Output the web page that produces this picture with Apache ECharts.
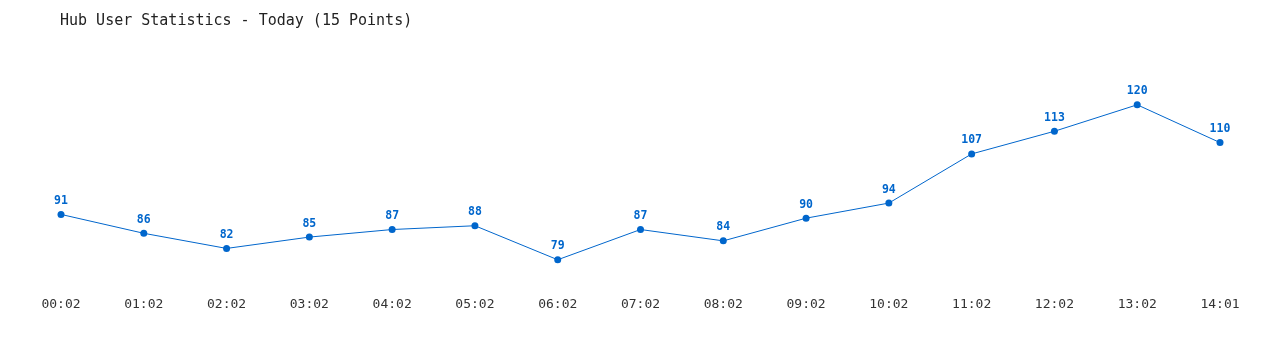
<!DOCTYPE html>
<html><head><meta charset="utf-8">
<script src="https://cdn.jsdelivr.net/npm/echarts@6/dist/echarts.min.js"></script>
<style>html,body{margin:0;padding:0;background:#fff}#c{width:1280px;height:350px}</style>
</head><body><div id="c"></div>
<script>
const categories = ["00:02","01:02","02:02","03:02","04:02","05:02","06:02","07:02","08:02","09:02","10:02","11:02","12:02","13:02","14:01"];
const users = [91,86,82,85,87,88,79,87,84,90,94,107,113,120,110];
const chart = echarts.init(document.getElementById('c'));
chart.setOption({
  animation:false,
  title:{text:'Hub User Statistics - Today (15 Points)',left:55,top:9,
    textStyle:{fontFamily:'DejaVu Sans Mono',fontSize:15,fontWeight:'normal',color:'#222'}},
  grid:{left:61,right:60,top:67,bottom:60},
  xAxis:{type:'category',data:categories,boundaryGap:false,
    axisLine:{show:false},axisTick:{show:false},
    axisLabel:{fontFamily:'DejaVu Sans Mono',fontSize:13,color:'#333',margin:8}},
  yAxis:{type:'value',min:71,max:130,show:false,splitLine:{show:false}},
  series:[{type:'line',data:users,symbol:'circle',symbolSize:7,
    lineStyle:{color:'#0066cc',width:1},itemStyle:{color:'#0066cc'},
    label:{show:true,position:'top',distance:4,fontFamily:'DejaVu Sans Mono',fontSize:11.5,fontWeight:'bold',color:'#0066cc'}}]
});
</script></body></html>
